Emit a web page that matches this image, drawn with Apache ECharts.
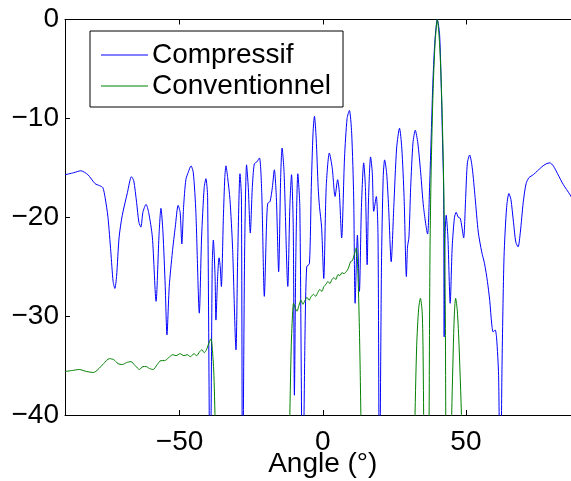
<!DOCTYPE html>
<html>
<head>
<meta charset="utf-8">
<script src="https://cdn.jsdelivr.net/npm/echarts@6/dist/echarts.min.js"></script>
<style>
html,body{margin:0;padding:0;background:#fff;}
#c{width:571px;height:481px;}
</style>
</head>
<body>
<div id="c"></div>
<script>
// Angle (degrees) and level (dB)
const compressifAngle = [-90,-87,-84.5,-82,-79.5,-78,-76.8,-76,-75,-74,-73.2,-72.6,-72,-71.1,-70,-68.2,-66.8,-66,-65,-64.2,-63.5,-62.8,-61.7,-60.8,-59.5,-58.2,-57.2,-56.5,-55.8,-55,-54.4,-53.6,-52.5,-51.5,-50.5,-49.8,-49.2,-48.6,-47.8,-46.9,-46.0,-45.2,-44.3,-43.1,-42.3,-41.4,-40.8,-40.2,-39.3,-38.6,-38.2,-37.6,-37.3,-36.7,-36.2,-35.8,-35.4,-34.7,-34.2,-33.8,-33.2,-32.4,-31.5,-30.3,-29.7,-28.9,-28.4,-28.0,-27.3,-26.6,-26.0,-25.3,-24.6,-23.9,-23,-22.1,-21.3,-20.4,-19.6,-19.2,-18.4,-17.6,-16.9,-16.2,-15.4,-14.7,-14.2,-13.5,-12.2,-11.5,-10.9,-10.3,-9.9,-9.4,-8.7,-8.0,-7.0,-6.2,-5.6,-4.65,-4.0,-3.4,-2.9,-2.3,-1.6,-1.15,-0.4,0.35,1.2,2.3,3.3,4.3,5.2,5.8,6.6,7.6,8.5,9.3,10.1,10.8,11.3,12.1,12.8,13.5,14.3,14.9,15.5,16.0,16.7,17.3,17.8,18.7,19.3,19.8,20.5,21.1,21.6,22.3,23.0,23.9,24.8,25.8,26.8,27.6,28.4,29.2,29.6,30.1,30.7,31.5,32.3,33.2,34.2,35.2,36.6,37.3,37.9,38.5,39.2,40.0,40.8,41.4,41.8,42.2,42.4,42.7,43.1,43.7,44.5,45.2,46.0,46.6,47.3,48.0,48.6,49.2,49.9,50.5,51.3,52.2,53.2,54.3,55.5,56.5,57.5,58.3,59.0,59.5,60.2,60.7,61.4,62.0,62.6,63.3,64.2,65.0,65.7,66.6,67.4,68.2,69.0,70.0,71.0,72.0,73.5,75.0,76.5,78.0,79.3,80.5,82.0,84.0,86.3,88,90];
const compressifDb = [-15.7,-15.5,-15.3,-15.7,-16.6,-16.8,-17.0,-18,-20,-23.5,-26.5,-27.2,-26,-22,-19.8,-17.5,-15.9,-16.3,-18.5,-20.5,-21.0,-19.5,-18.7,-19.5,-22,-28.5,-22,-19.1,-21.5,-27,-31.9,-27,-23.5,-21,-18.8,-19.5,-22.7,-19,-16.2,-15.4,-14.8,-15.5,-19.5,-29.7,-22,-17,-16.1,-18,-50,-25,-22.3,-26,-30.4,-26,-24.1,-25,-27.0,-20,-16,-14.8,-16,-18.2,-23,-33.4,-24,-15.6,-18,-50,-24,-14.7,-17,-21.6,-17,-14.6,-14.4,-14.0,-17.5,-28.0,-20.5,-18.6,-18.4,-17,-15.2,-18,-25.5,-16,-13.0,-15.5,-27.0,-19,-15.7,-21,-38.0,-24,-15.6,-19,-50,-32,-25.0,-24.7,-17,-11.5,-9.8,-12,-17,-18.9,-21,-26.2,-17,-13.5,-15,-17.9,-16.2,-17.5,-22.1,-14,-10,-9.2,-11.5,-18,-28.7,-21.8,-27.5,-19,-14.5,-17,-24.8,-18,-13.9,-15.5,-19.4,-17.9,-22,-50,-25,-16,-14.2,-15.5,-19,-24.5,-19,-13,-11.0,-13,-18,-26.0,-23,-22.0,-17,-12.5,-11.2,-12.5,-15.5,-19,-21.7,-17,-11.5,-6,-2,0,-1.5,-7,-12,-17,-32.1,-22,-19.8,-22,-28.7,-23,-20,-19.5,-20.0,-20.1,-21,-22.1,-18,-14.5,-13.7,-15,-18,-21.5,-23.5,-24.7,-26.5,-28.4,-30.8,-31.6,-31.4,-32.2,-36,-50,-35,-24,-19,-17.6,-18.2,-20.5,-22.5,-23.0,-21.5,-18.5,-16.6,-16.0,-15.7,-15.3,-14.9,-14.6,-14.5,-14.8,-15.6,-16.7,-17.7,-18.6,-19.5];

const conventionnelAngle = [-90,-87.5,-85,-82.5,-80,-78.5,-76.5,-74.5,-73,-71.5,-70,-68.5,-67,-65.5,-64,-62.8,-61.7,-60.5,-59.2,-57.8,-56.5,-55.2,-53.8,-52.4,-51.2,-49.8,-48.5,-47.3,-46.2,-45,-44,-43,-42.2,-41.4,-40.6,-39.6,-39.0,-38.5,-38.0,-37.5,-36.8,-12.2,-11.6,-11.0,-10.5,-10.2,-9.6,-9.0,-8.3,-7.6,-6.9,-6.2,-5.5,-4.8,-4.0,-3.2,-2.5,-1.7,-1.0,-0.3,0.4,1.1,1.8,2.5,3.2,3.9,4.6,5.3,6.0,6.7,7.4,8.2,8.9,9.7,10.3,11.0,11.7,12.2,12.7,13.1,13.4,14,31.5,32.1,32.8,33.5,34.1,34.7,35.0,35.3,36,36.5,37.1,37.3,37.5,37.9,38.5,39.2,40.0,40.8,41.5,42.1,42.5,42.8,43.0,43.7,44.3,44.9,45.6,46.0,46.4,47.0,47.6,48.6,49.3,90];
const conventionnelDb = [-35.6,-35.5,-35.4,-35.6,-35.7,-35.4,-34.8,-34.3,-34.4,-34.8,-34.9,-34.7,-34.6,-35.0,-35.4,-35.1,-35.1,-35.3,-35.4,-34.9,-34.5,-34.5,-34.2,-33.9,-34.0,-33.8,-34.0,-33.9,-34.1,-33.8,-34.0,-33.6,-33.4,-33.7,-33.4,-32.6,-32.3,-33.5,-36,-42,-60,-60,-42,-33,-29.5,-28.7,-29.2,-29.5,-28.9,-28.4,-28.8,-28.4,-28.1,-28.4,-28.0,-27.8,-28.0,-27.6,-27.3,-27.5,-27.0,-26.8,-26.5,-26.7,-26.3,-26.1,-26.3,-25.8,-25.9,-25.6,-25.7,-25.5,-25.2,-24.5,-24.4,-23.8,-23.1,-25,-30,-36,-42,-60,-60,-42,-33,-29.2,-28.2,-29.5,-33,-42,-60,-60,-42,-30,-22,-14.5,-7.5,-2.5,0,-2.5,-7.5,-14.5,-22,-30,-42,-60,-60,-42,-33,-29.5,-28.2,-29.5,-33,-42,-60,-60];

const xTicks = [-50, 0, 50];
const yMin = -40, yMax = 0, yStep = 10;
const seriesNames = ['Compressif', 'Conventionnel'];

const pair = (a, b) => a.map((v, i) => [v, b[i]]);
const FONT = 'Liberation Sans';
const minus = v => String(v).replace('-', '\u2212');

const chart = echarts.init(document.getElementById('c'), null, {renderer: 'canvas'});
chart.setOption({
  animation: false,
  backgroundColor: '#fff',
  textStyle: {fontFamily: FONT},
  grid: {left: 65, top: 19.5, right: -9.5, bottom: 66, containLabel: false, outerBoundsMode: 'none'},
  legend: {
    orient: 'vertical', left: 90, top: 31,
    padding: [10, 12, 7, 11], itemGap: 3, itemWidth: 47, itemHeight: 1.2,
    icon: 'rect',
    borderColor: '#000', borderWidth: 1, backgroundColor: '#fff',
    textStyle: {fontFamily: FONT, fontSize: 28, color: '#000', padding: [0,0,0,-1]},
    data: seriesNames
  },
  xAxis: [{
    type: 'value', min: -90, max: 90, position: 'bottom',
    name: 'Angle (°)', nameLocation: 'middle', nameGap: 35, nameMoveOverlap: false,
    nameTextStyle: {fontFamily: FONT, fontSize: 28, color: '#000'},
    axisLine: {show: true, onZero: false, lineStyle: {color: '#000', width: 1}},
    axisTick: {show: true, inside: true, length: 5, customValues: xTicks, lineStyle: {color: '#000'}},
    axisLabel: {customValues: xTicks, fontFamily: FONT, fontSize: 28, color: '#000', margin: 13, formatter: minus},
    splitLine: {show: false}
  }, {
    type: 'value', min: -90, max: 90, position: 'top',
    axisLine: {show: true, onZero: false, lineStyle: {color: '#000', width: 1}},
    axisTick: {show: true, inside: true, length: 5, customValues: xTicks, lineStyle: {color: '#000'}},
    axisLabel: {show: false},
    splitLine: {show: false}
  }],
  yAxis: {
    type: 'value', min: yMin, max: yMax, interval: yStep,
    axisLine: {show: true, onZero: false, lineStyle: {color: '#000', width: 1}},
    axisTick: {show: true, inside: true, length: 5, lineStyle: {color: '#000'}},
    axisLabel: {fontFamily: FONT, fontSize: 28, color: '#000', margin: 6, formatter: minus},
    splitLine: {show: false}
  },
  series: [{
    name: seriesNames[0], type: 'line', xAxisIndex: 0,
    data: pair(compressifAngle, compressifDb),
    symbol: 'none', smooth: 0.25, clip: true,
    lineStyle: {color: '#0000ff', width: 1}, itemStyle: {color: '#0000ff'}
  }, {
    name: seriesNames[1], type: 'line', xAxisIndex: 0,
    data: pair(conventionnelAngle, conventionnelDb),
    symbol: 'none', smooth: 0.25, clip: true,
    lineStyle: {color: '#008000', width: 1}, itemStyle: {color: '#008000'}
  }]
});
</script>
</body>
</html>
